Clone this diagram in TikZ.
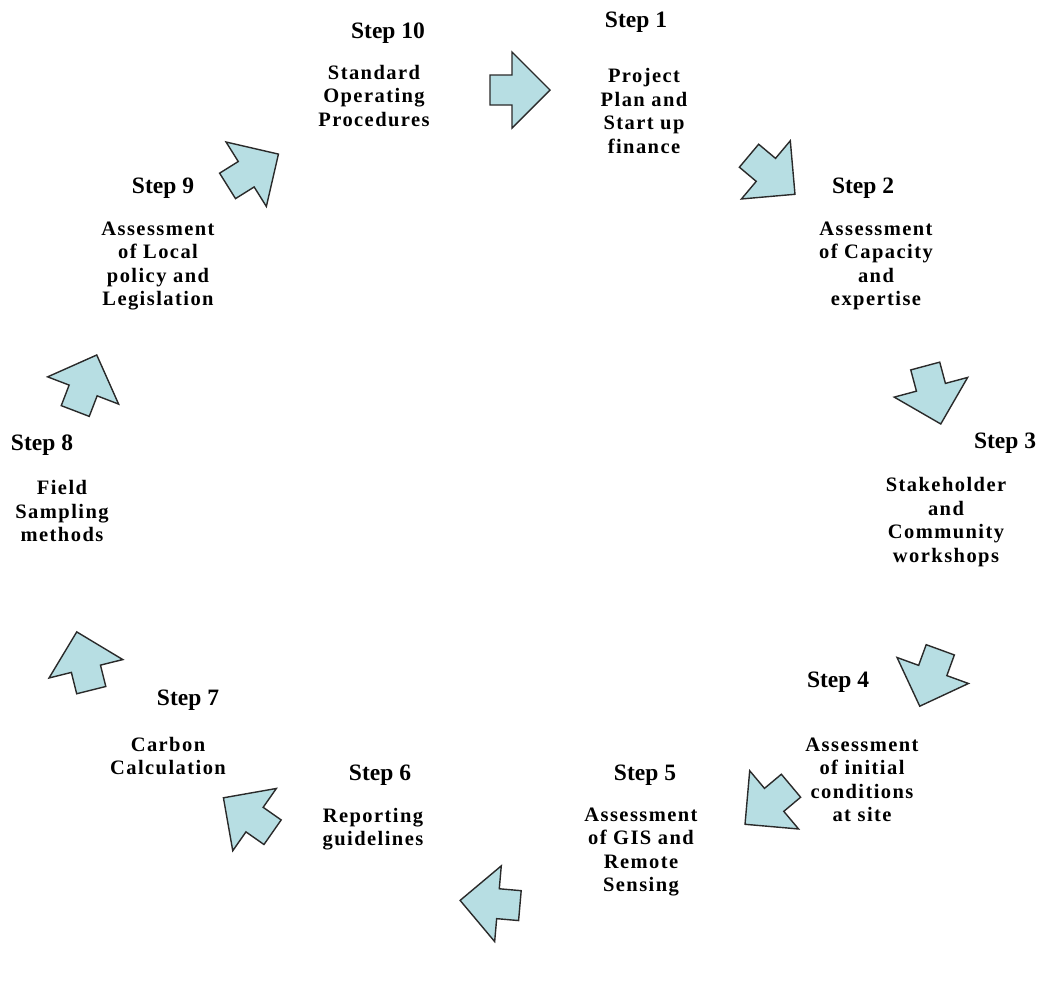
\documentclass[tikz,border=0pt]{standalone}
\usepackage{fontspec}
\setmainfont{Liberation Serif}
\newfontfamily\stepfont{Liberation Serif}
\newfontfamily\bodyfont[LetterSpace=7]{Liberation Serif}
\definecolor{arrowfill}{HTML}{B7DEE3}
\definecolor{arrowline}{HTML}{2A2A2A}
\tikzset{
  steplbl/.style={font=\stepfont\bfseries\fontsize{23.5}{28}\selectfont, inner sep=0pt},
  bodytxt/.style={font=\bodyfont\bfseries\fontsize{20.5}{23.5}\selectfont, align=center, inner sep=0pt},
  blockarrow/.style={fill=arrowfill, draw=arrowline, line width=1.4pt, line join=miter}
}
% #3 = direction in degrees, counter-clockwise as seen on the page
\newcommand{\blockarrowshape}[3]{%
  \path[blockarrow, shift={(#1,#2)}, rotate=#3]
    (-30,-15) -- (-8,-15) -- (-8,-38) -- (30,0) -- (-8,38) -- (-8,15) -- (-30,15) -- cycle;}
\begin{document}
\begin{tikzpicture}[x=1pt, y=-1pt]
\useasboundingbox (0,0) rectangle (1038,1007);
\fill[white] (0,0) rectangle (1038,1007);

% arrows
\blockarrowshape{520}{90}{0}
\blockarrowshape{772}{175}{-40}
\blockarrowshape{933}{395}{-75}
\blockarrowshape{930}{678}{-110}
\blockarrowshape{768}{805}{-140}
\blockarrowshape{490}{903}{175}
\blockarrowshape{248}{815}{145}
\blockarrowshape{84}{661}{104}
\blockarrowshape{86}{383}{69}
\blockarrowshape{253}{170}{32}

% labels
\node[steplbl] (s10) at (388,33) {Step 10};
\node[bodytxt] (b10) at (374,96) {Standard\\Operating\\Procedures};
\node[steplbl] (s1) at (636,22) {Step 1};
\node[bodytxt] (b1) at (644,111) {Project\\Plan and\\Start up\\finance};
\node[steplbl] (s2) at (863,188) {Step 2};
\node[bodytxt] (b2) at (876,266) {Assessment\\of Capacity\\and\\expertise};
\node[steplbl] (s3) at (1005,443) {Step 3};
\node[bodytxt] (b3) at (946,522) {Stakeholder\\and\\Community\\workshops};
\node[steplbl] (s4) at (838,682) {Step 4};
\node[bodytxt] (b4) at (862,780) {Assessment\\of initial\\conditions\\at site};
\node[steplbl] (s5) at (645,775) {Step 5};
\node[bodytxt] (b5) at (641,852) {Assessment\\of GIS and\\Remote\\Sensing};
\node[steplbl] (s6) at (380,775) {Step 6};
\node[bodytxt] (b6) at (373,829) {Reporting\\guidelines};
\node[steplbl] (s7) at (188,700) {Step 7};
\node[bodytxt] (b7) at (168,756) {Carbon\\Calculation};
\node[steplbl] (s8) at (42,445) {Step 8};
\node[bodytxt] (b8) at (62,511) {Field\\Sampling\\methods};
\node[steplbl] (s9) at (163,188) {Step 9};
\node[bodytxt] (b9) at (158,266) {Assessment\\of Local\\policy and\\Legislation};
\end{tikzpicture}
\end{document}
